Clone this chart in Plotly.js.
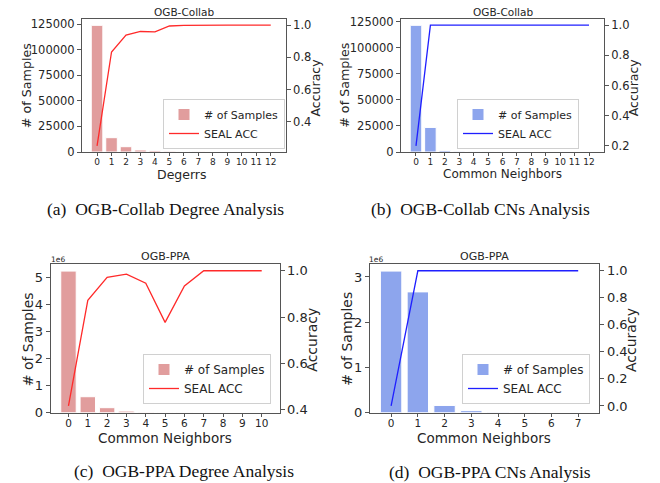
<!DOCTYPE html>
<html>
<head>
<meta charset="utf-8">
<script src="https://cdn.plot.ly/plotly-3.0.1.min.js"></script>
<style>html,body{margin:0;padding:0;background:#fff;}#chart{width:660px;height:483px;}</style>
</head>
<body>
<div id="chart"></div>
<script>
// ---------- data ----------
var collabDegX = [0,1,2,3,4,5,6,7,8,9,10,11,12];
var collabDegCounts = [124000, 14000, 5200, 2000, 1300, 800, 500, 200, 100, 80, 60, 40, 30];
var collabDegAcc = [0.25, 0.833, 0.937, 0.96, 0.958, 0.994, 0.998, 1.0, 1.0, 1.0, 1.0, 1.0, 1.0];

var collabCnX = [0,1,2,3,4,5,6,7,8,9,10,11,12];
var collabCnCounts = [121700, 23600, 1500, 700, 200, 100, 50, 30, 20, 10, 10, 5, 5];
var collabCnAcc = [0.2, 1.0, 1.0, 1.0, 1.0, 1.0, 1.0, 1.0, 1.0, 1.0, 1.0, 1.0, 1.0];

var ppaDegX = [0,1,2,3,4,5,6,7,8,9,10];
var ppaDegCounts = [5230000, 590000, 185000, 60000, 15000, 8000, 4000, 2000, 1000, 500, 300];
var ppaDegAcc = [0.416, 0.872, 0.972, 0.985, 0.946, 0.777, 0.934, 1.0, 1.0, 1.0, 1.0];

var ppaCnX = [0,1,2,3,4,5,6,7];
var ppaCnCounts = [3130000, 2670000, 160000, 45000, 10000, 3000, 1000, 500];
var ppaCnAcc = [0.0, 1.0, 1.0, 1.0, 1.0, 1.0, 1.0, 1.0];

var panelTitles = ["OGB-Collab", "OGB-Collab", "OGB-PPA", "OGB-PPA"];
var xTitles = ["Degerrs", "Common Neighbors", "Common Neighbors", "Common Neighbors"];
var captions = ["(a)  OGB-Collab Degree Analysis", "(b)  OGB-Collab CNs Analysis",
                "(c)  OGB-PPA Degree Analysis", "(d)  OGB-PPA CNs Analysis"];
var barName = "# of Samples";
var lineName = "SEAL ACC";
var leftTitle = "# of Samples";
var rightTitle = "Accuracy";
var ppaDegYTicks = [0,1,2,3,4,5];
var ppaCnYTicks = [0,1,2,3];

// ---------- styling ----------
var W = 660, H = 483;
function px(x){ return x / W; }
function py(y){ return 1 - y / H; }
var redBar = "rgba(205,92,92,0.6)";
var blueBar = "rgba(65,105,225,0.6)";
var redLine = "#ff2a2a";
var blueLine = "#1f1fff";
var spine = "#555";
var txt = "#262626";
var SANS = "DejaVu Sans";

function bar(x, y, color, xa, ya, lg){
  return {type:"bar", x:x, y:y, name:barName, xaxis:xa, yaxis:ya, legend:lg,
    width:0.8, marker:{color:color, line:{color:"#fff", width:1}}, hoverinfo:"x+y"};
}
function line(x, y, color, xa, ya, lg){
  return {type:"scatter", mode:"lines", x:x, y:y, name:lineName, xaxis:xa, yaxis:ya, legend:lg,
    line:{color:color, width:1.3}};
}

var data = [
  bar(collabDegX, collabDegCounts, redBar, "x", "y", "legend"),
  line(collabDegX, collabDegAcc, redLine, "x", "y2", "legend"),
  bar(collabCnX, collabCnCounts, blueBar, "x2", "y3", "legend2"),
  line(collabCnX, collabCnAcc, blueLine, "x2", "y4", "legend2"),
  bar(ppaDegX, ppaDegCounts, redBar, "x3", "y5", "legend3"),
  line(ppaDegX, ppaDegAcc, redLine, "x3", "y6", "legend3"),
  bar(ppaCnX, ppaCnCounts, blueBar, "x4", "y7", "legend4"),
  line(ppaCnX, ppaCnAcc, blueLine, "x4", "y8", "legend4")
];

function xax(dom, anchor, range, n, fs){
  var tv = []; for (var i=0;i<n;i++) tv.push(i);
  return {domain:dom, anchor:anchor, range:range, tickvals:tv, ticks:"outside", ticklen:3,
    ticklabelstandoff:-2,
    tickcolor:spine, showline:true, linecolor:spine, linewidth:1, mirror:true,
    showgrid:false, zeroline:false, tickfont:{family:SANS, size:fs, color:txt}};
}
function yax(dom, anchor, range, fs, extra){
  var o = {domain:dom, anchor:anchor, range:range, ticks:"outside", ticklen:4,
    tickcolor:spine, showline:true, linecolor:spine, linewidth:1,
    showgrid:false, zeroline:false, tickfont:{family:SANS, size:fs, color:txt}};
  for (var k in extra) o[k] = extra[k];
  return o;
}

var topY = [py(152), py(19)];
var botY = [py(412.7), py(264)];
var dA = [px(82), px(285.8)], dB = [px(401), px(604)];
var dC = [px(50.7), px(279.5)], dD = [px(370), px(599.3)];

function sc(arr, m){ return arr.map(function(v){ return v*m; }); }
function lab(arr){ return arr.map(function(v){ return String(v); }); }

var layout = {
  width:W, height:H, margin:{l:0,r:0,t:0,b:0}, paper_bgcolor:"#fff", plot_bgcolor:"#fff",
  barmode:"group",
  xaxis: xax(dA, "y", [-1.04, 13.04], 13, 9),
  yaxis: yax(topY, "x", [0, 130200], 11.5, {dtick:25000, tick0:0, tickformat:"d"}),
  yaxis2: yax(topY, "x", [0.2125, 1.0375], 11.5, {overlaying:"y", side:"right", dtick:0.2, tick0:0, tickformat:".1f"}),
  xaxis2: xax(dB, "y3", [-1.04, 13.04], 13, 9),
  yaxis3: yax(topY, "x2", [0, 127785], 11.5, {dtick:25000, tick0:0, tickformat:"d"}),
  yaxis4: yax(topY, "x2", [0.16, 1.04], 11.5, {overlaying:"y3", side:"right", dtick:0.2, tick0:0, tickformat:".1f"}),
  xaxis3: xax(dC, "y5", [-0.92, 10.92], 11, 10.5),
  yaxis5: yax(botY, "x3", [0, 5491500], 13, {tickvals:sc(ppaDegYTicks,1e6), ticktext:lab(ppaDegYTicks)}),
  yaxis6: yax(botY, "x3", [0.3868, 1.0292], 13, {overlaying:"y5", side:"right", dtick:0.2, tick0:0, tickformat:".1f"}),
  xaxis4: xax(dD, "y7", [-0.79, 7.79], 8, 10.5),
  yaxis7: yax(botY, "x4", [0, 3286500], 13, {tickvals:sc(ppaCnYTicks,1e6), ticktext:lab(ppaCnYTicks)}),
  yaxis8: yax(botY, "x4", [-0.05, 1.05], 13, {overlaying:"y7", side:"right", dtick:0.2, tick0:0, tickformat:".1f"}),
  showlegend:true,
  legend:  {x:px(163), y:py(99), xanchor:"left", yanchor:"top", bgcolor:"#fff", bordercolor:"#d0d0d0", borderwidth:1, font:{family:SANS, size:11, color:txt}, tracegroupgap:0},
  legend2: {x:px(457), y:py(99), xanchor:"left", yanchor:"top", bgcolor:"#fff", bordercolor:"#d0d0d0", borderwidth:1, font:{family:SANS, size:11, color:txt}, tracegroupgap:0},
  legend3: {x:px(143), y:py(354), xanchor:"left", yanchor:"top", bgcolor:"#fff", bordercolor:"#d0d0d0", borderwidth:1, font:{family:SANS, size:12, color:txt}, tracegroupgap:0},
  legend4: {x:px(462), y:py(354), xanchor:"left", yanchor:"top", bgcolor:"#fff", bordercolor:"#d0d0d0", borderwidth:1, font:{family:SANS, size:12, color:txt}, tracegroupgap:0},
  annotations: []
};

function ann(text, x, y, fs, opts){
  var a = {text:text, x:px(x), y:py(y), xref:"paper", yref:"paper", showarrow:false,
    xanchor:"center", yanchor:"middle", font:{family:SANS, size:fs, color:txt}};
  for (var k in opts) a[k] = opts[k];
  return a;
}
var A = layout.annotations;
// panel titles
A.push(ann(panelTitles[0], 183.5, 11.5, 10.5));
A.push(ann(panelTitles[1], 502.5, 11.5, 10.5));
A.push(ann(panelTitles[2], 165, 256, 11));
A.push(ann(panelTitles[3], 484.5, 256, 11));
// x titles
A.push(ann(xTitles[0], 181.7, 174.5, 12.5));
A.push(ann(xTitles[1], 502, 174, 12));
A.push(ann(xTitles[2], 164.7, 437.5, 13.5));
A.push(ann(xTitles[3], 483.7, 437.5, 13.5));
// left y titles
A.push(ann(leftTitle, 26.7, 85.5, 12.7, {textangle:-90}));
A.push(ann(leftTitle, 345, 85.8, 12.7, {textangle:-90}));
A.push(ann(leftTitle, 28.3, 339, 14, {textangle:-90}));
A.push(ann(leftTitle, 346.7, 339, 14, {textangle:-90}));
// right y titles
A.push(ann(rightTitle, 315, 87.5, 12.5, {textangle:-90}));
A.push(ann(rightTitle, 633.3, 87, 12.5, {textangle:-90}));
A.push(ann(rightTitle, 311.7, 340, 14, {textangle:-90}));
A.push(ann(rightTitle, 631, 340, 14, {textangle:-90}));
// offset labels
A.push(ann("1e6", 57.5, 259, 7.5));
A.push(ann("1e6", 376, 259, 7.5));
// captions
var SERIF = "Liberation Serif, DejaVu Serif, serif";
A.push(ann(captions[0], 165, 209, 17.5, {font:{family:SERIF, size:17.5, color:"#111"}}));
A.push(ann(captions[1], 480, 209, 17.5, {font:{family:SERIF, size:17.5, color:"#111"}}));
A.push(ann(captions[2], 184, 471, 17.5, {font:{family:SERIF, size:17.5, color:"#111"}}));
A.push(ann(captions[3], 490, 472, 17.5, {font:{family:SERIF, size:17.5, color:"#111"}}));

Plotly.newPlot("chart", data, layout, {staticPlot:true, displayModeBar:false});
</script>
</body>
</html>
